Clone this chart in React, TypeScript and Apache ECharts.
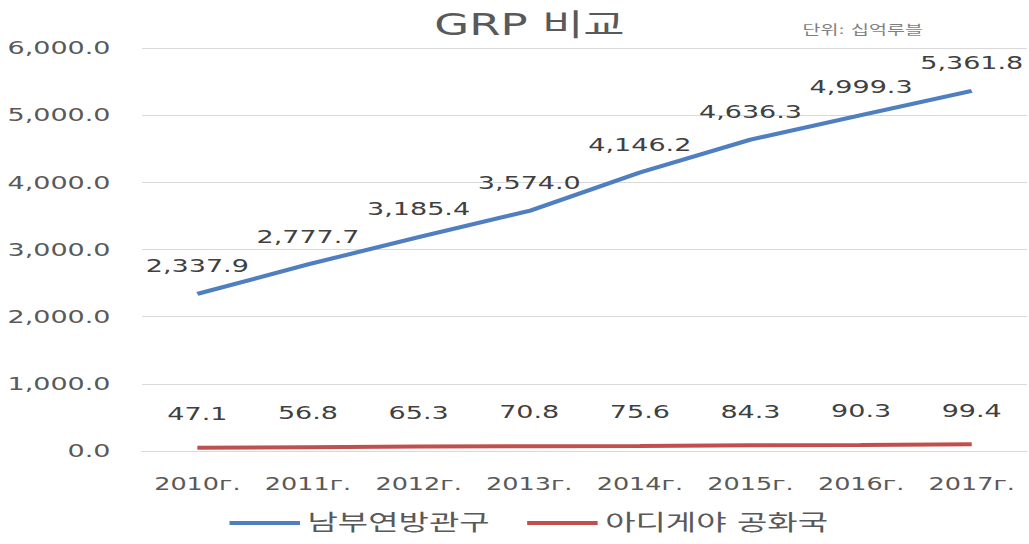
import React, { useEffect, useRef } from "react";
import * as echarts from "echarts";

const categories = ["2010г.", "2011г.", "2012г.", "2013г.", "2014г.", "2015г.", "2016г.", "2017г."];
const southValues = [2337.9, 2777.7, 3185.4, 3574.0, 4146.2, 4636.3, 4999.3, 5361.8];
const adygeaValues = [47.1, 56.8, 65.3, 70.8, 75.6, 84.3, 90.3, 99.4];
const seriesNames = ["남부연방관구", "아디게야 공화국"];
const titleText = "GRP 비교";
const unitText = "단위: 십억루블";

// The reference picture is horizontally stretched; we draw at a narrower width and stretch.
const STRETCH = 1.5;
const W = 1029 / STRETCH;
const H = 544;

const FONT = "'DejaVu Sans', 'Noto Sans CJK KR', sans-serif";
const fmt = (v: number) =>
  v.toLocaleString("en-US", { minimumFractionDigits: 1, maximumFractionDigits: 1 });

export default function App() {
  const ref = useRef<HTMLDivElement>(null);
  useEffect(() => {
    if (!ref.current) return;
    const chart = echarts.init(ref.current, undefined, { renderer: "svg" });
    const labelCfg = (distance: number) => ({
      show: true,
      position: "top",
      distance,
      fontSize: 18,
      color: "#404040",
      fontFamily: FONT,
      formatter: (p: any) => fmt(p.value),
    });
    chart.setOption({
      animation: false,
      backgroundColor: "#ffffff",
      textStyle: { fontFamily: FONT },
      title: {
        text: titleText,
        left: 348,
        textAlign: "center",
        top: 5,
        textStyle: { fontSize: 30, fontWeight: "normal", color: "#595959", fontFamily: FONT },
      },
      graphic: [
        {
          type: "text",
          left: 535,
          top: 23,
          style: { text: unitText, fontSize: 13, fill: "#7f7f7f", fontFamily: FONT },
        },
      ],
      legend: {
        bottom: 5,
        left: 148,
        itemWidth: 47,
        itemHeight: 4,
        itemGap: 25,
        icon: "rect",
        textStyle: { fontSize: 22, color: "#595959", fontFamily: FONT },
        data: seriesNames,
      },
      grid: { left: 94.7, right: 1.3, top: 48, bottom: 93 },
      xAxis: {
        type: "category",
        data: categories,
        boundaryGap: true,
        axisLine: { lineStyle: { color: "#d9d9d9" } },
        axisTick: { show: false },
        axisLabel: { interval: 0, fontSize: 17, color: "#595959", margin: 25, fontFamily: FONT },
      },
      yAxis: {
        type: "value",
        min: 0,
        max: 6000,
        interval: 1000,
        axisLine: { show: false },
        axisTick: { show: false },
        splitLine: { lineStyle: { color: "#d9d9d9" } },
        axisLabel: {
          fontSize: 18,
          color: "#595959",
          margin: 21,
          fontFamily: FONT,
          formatter: (v: number) => fmt(v),
        },
      },
      series: [
        {
          name: seriesNames[0],
          type: "line",
          data: southValues,
          symbol: "circle",
          symbolSize: 0.1,
          showSymbol: true,
          lineStyle: { color: "#4f7fc0", width: 4 },
          itemStyle: { color: "#4f7fc0" },
          label: labelCfg(19),
        },
        {
          name: seriesNames[1],
          type: "line",
          data: adygeaValues,
          symbol: "circle",
          symbolSize: 0.1,
          showSymbol: true,
          lineStyle: { color: "#c0504d", width: 4 },
          itemStyle: { color: "#c0504d" },
          label: labelCfg(25),
        },
      ],
    });
    return () => chart.dispose();
  }, []);
  return (
    <div
      ref={ref}
      style={{
        position: "fixed",
        left: 0,
        top: 0,
        width: W,
        height: H,
        transform: `scaleX(${STRETCH})`,
        transformOrigin: "0 0",
      }}
    />
  );
}
